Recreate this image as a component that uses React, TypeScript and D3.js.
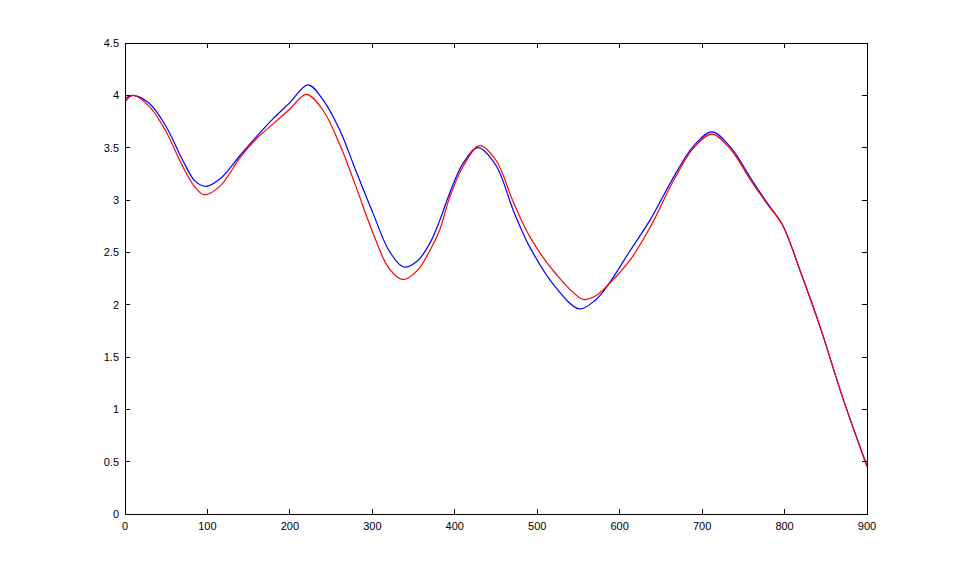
import React from "react";
import * as d3 from "d3";

// values
const xBlue = [0, 10, 30, 50, 70, 85, 98, 115, 140, 160, 180, 200, 222, 240, 261, 280, 301, 320, 338, 355, 370, 382, 394, 410, 428, 450, 471, 491, 522, 551, 570, 586, 613, 637, 667, 690, 712, 735, 758, 780, 797, 820, 843, 871, 900];
const yBlue = [3.97, 4.0, 3.92, 3.7, 3.38, 3.18, 3.13, 3.2, 3.43, 3.61, 3.78, 3.93, 4.1, 3.96, 3.66, 3.28, 2.87, 2.52, 2.36, 2.42, 2.59, 2.81, 3.07, 3.35, 3.5, 3.33, 2.9, 2.55, 2.17, 1.96, 2.04, 2.19, 2.52, 2.81, 3.24, 3.52, 3.65, 3.5, 3.22, 2.96, 2.77, 2.3, 1.79, 1.1, 0.46];

const xRed = [0, 10, 30, 50, 70, 85, 96, 115, 140, 160, 180, 200, 220, 240, 261, 280, 301, 320, 337, 355, 370, 382, 394, 410, 430, 450, 471, 491, 522, 556, 570, 586, 613, 637, 667, 690, 712, 735, 758, 780, 797, 820, 843, 871, 900];
const yRed = [3.94, 4.0, 3.89, 3.65, 3.32, 3.12, 3.05, 3.13, 3.41, 3.59, 3.73, 3.87, 4.01, 3.86, 3.52, 3.13, 2.68, 2.35, 2.24, 2.33, 2.52, 2.72, 3.03, 3.32, 3.52, 3.38, 2.98, 2.65, 2.3, 2.05, 2.08, 2.19, 2.43, 2.74, 3.21, 3.5, 3.63, 3.48, 3.2, 2.95, 2.77, 2.3, 1.79, 1.1, 0.45];

const xTicks = [0, 100, 200, 300, 400, 500, 600, 700, 800, 900];
const yTicks = [0, 0.5, 1, 1.5, 2, 2.5, 3, 3.5, 4, 4.5];

const W = 959;
const H = 577;
const left = 125;
const right = 867;
const top = 43;
const bottom = 514;

export default function App() {
  const x = d3.scaleLinear().domain([0, 900]).range([left, right]);
  const y = d3.scaleLinear().domain([0, 4.5]).range([bottom, top]);

  const line = d3
    .line<[number, number]>()
    .x((d) => x(d[0]))
    .y((d) => y(d[1]))
    .curve(d3.curveCatmullRom.alpha(0.5));

  const blue = line(xBlue.map((v, i) => [v, yBlue[i]] as [number, number]));
  const red = line(xRed.map((v, i) => [v, yRed[i]] as [number, number]));

  const font = "'Liberation Sans', Arial, sans-serif";
  const tick = 5;

  return (
    <svg
      width={W}
      height={H}
      style={{ position: "fixed", left: 0, top: 0, background: "#fff" }}
    >
      <rect x={0} y={0} width={W} height={H} fill="#fff" />
      <defs>
        <clipPath id="plot">
          <rect x={left} y={top - 1} width={right - left + 1} height={bottom - top + 2} />
        </clipPath>
      </defs>
      <g clipPath="url(#plot)">
        <path d={blue || ""} fill="none" stroke="#0000ff" strokeWidth={1.2} />
        <path d={red || ""} fill="none" stroke="#ff0000" strokeWidth={1.2} />
      </g>
      <g stroke="#000" strokeWidth={1} shapeRendering="crispEdges">
        {xTicks.map((t) => (
          <g key={"xt" + t}>
            <line x1={x(t)} x2={x(t)} y1={bottom} y2={bottom - tick} />
            <line x1={x(t)} x2={x(t)} y1={top} y2={top + tick} />
          </g>
        ))}
        {yTicks.map((t) => (
          <g key={"yt" + t}>
            <line x1={left} x2={left + tick} y1={y(t)} y2={y(t)} />
            <line x1={right} x2={right - tick} y1={y(t)} y2={y(t)} />
          </g>
        ))}
        <rect
          x={left}
          y={top}
          width={right - left}
          height={bottom - top}
          fill="none"
        />
      </g>
      <g fontFamily={font} fontSize={11} fill="#000">
        {xTicks.map((t) => (
          <text key={"xl" + t} x={x(t)} y={bottom + 16} textAnchor="middle">
            {t}
          </text>
        ))}
        {yTicks.map((t) => (
          <text key={"yl" + t} x={left - 6} y={y(t) + 4} textAnchor="end">
            {t}
          </text>
        ))}
      </g>
    </svg>
  );
}
